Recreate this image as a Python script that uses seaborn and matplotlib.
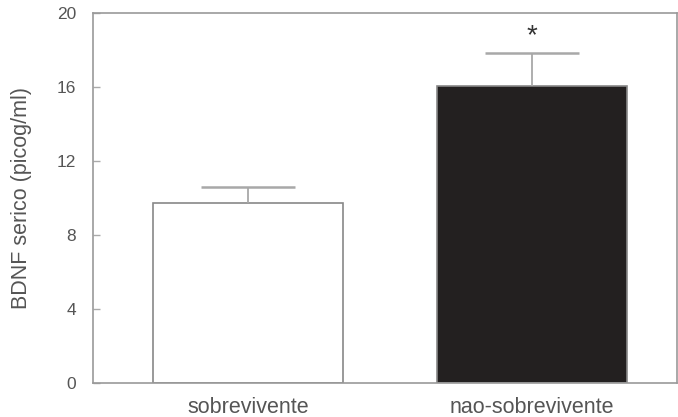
import matplotlib
matplotlib.use("Agg")
import matplotlib.pyplot as plt
import seaborn as sns
import pandas as pd

categories = ["sobrevivente", "nao-sobrevivente"]
means = [9.73, 16.05]
sem = [0.87, 1.79]
bar_colors = ["#ffffff", "#231f20"]
yticks = [0, 4, 8, 12, 16, 20]

sns.set_theme(style="white")
plt.rcParams["font.family"] = ["Liberation Sans", "DejaVu Sans"]

df = pd.DataFrame({"grupo": categories, "bdnf": means})

fig = plt.figure(figsize=(6.78, 4.17), dpi=100)
ax = fig.add_axes([0.137, 0.0815, 0.8615, 0.8875])

sns.barplot(data=df, x="grupo", y="bdnf", hue="grupo", palette=bar_colors,
            width=0.67, edgecolor="#888888", linewidth=1.2, legend=False, ax=ax)

eb = ax.errorbar(range(len(categories)), means, yerr=[[0, 0], sem], fmt="none",
                 ecolor="#a8a8a8", elinewidth=1.3, capsize=33.5, capthick=1.8)
# hide the lower caps (one-sided error bars)
eb[1][0].set_visible(False)

ax.text(1, means[1] + sem[1] + 0.2, "*", ha="center", va="bottom",
        fontsize=20, color="#333333")

ax.set_xlim(-0.546, 0.51 + 1)
ax.set_ylim(0, 20)
ax.set_yticks(yticks)
ax.set_yticklabels([str(t) for t in yticks])
ax.set_xlabel("")
ax.set_ylabel("BDNF serico (picog/ml)", fontsize=15.5, color="#555555", labelpad=18)

for side in ["left", "bottom", "top", "right"]:
    ax.spines[side].set_visible(True)
    ax.spines[side].set_color("#999999")
    ax.spines[side].set_linewidth(1.2)

ax.tick_params(axis="y", direction="in", length=5, width=1, color="#aaaaaa",
               labelsize=12.5, labelcolor="#555555", pad=12, left=True)
ax.tick_params(axis="x", length=0, labelsize=15.5, labelcolor="#555555", pad=10)

fig.savefig("out.png", dpi=100)
